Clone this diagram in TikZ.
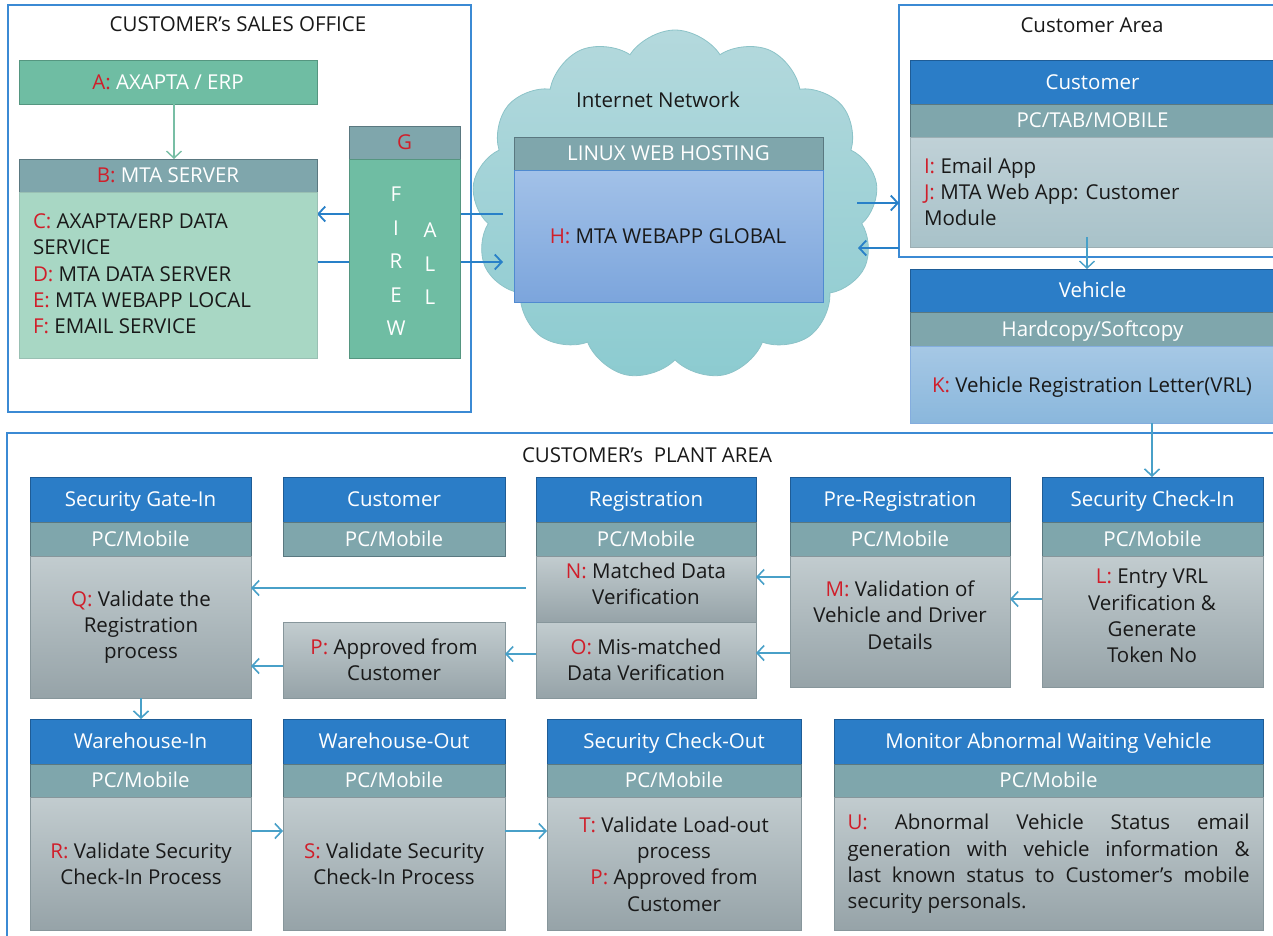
\documentclass[tikz,border=0pt]{standalone}
\usepackage{fontspec}
\setmainfont{Open Sans}
\usetikzlibrary{arrows.meta,shapes.symbols,calc}
\definecolor{hblue}{RGB}{43,125,199}
\definecolor{hbluebd}{RGB}{30,92,150}
\definecolor{subc}{RGB}{127,166,172}
\definecolor{subbd}{RGB}{90,120,128}
\definecolor{gtop}{RGB}{194,204,207}
\definecolor{gbot}{RGB}{150,163,168}
\definecolor{gbd}{RGB}{135,150,155}
\definecolor{tealc}{RGB}{111,189,163}
\definecolor{tealbd}{RGB}{85,150,128}
\definecolor{lgreen}{RGB}{168,215,196}
\definecolor{htop}{RGB}{162,193,232}
\definecolor{hbot}{RGB}{124,165,220}
\definecolor{hbd}{RGB}{80,138,208}
\definecolor{ctop}{RGB}{192,209,215}
\definecolor{cbot}{RGB}{168,194,201}
\definecolor{vtop}{RGB}{166,200,229}
\definecolor{vbot}{RGB}{138,183,220}
\definecolor{lred}{RGB}{208,30,42}
\definecolor{framec}{RGB}{59,138,212}
\definecolor{arrtop}{RGB}{40,128,200}
\definecolor{arrpl}{RGB}{72,160,200}
\definecolor{arrgr}{RGB}{120,190,165}
\definecolor{cltop}{RGB}{180,217,221}
\definecolor{clbot}{RGB}{140,203,208}
\definecolor{clbd}{RGB}{140,195,200}
\definecolor{txt}{RGB}{25,25,25}
\newcommand\fs{\fontsize{20.5}{26.3}\selectfont}
\newcommand\rl[1]{\textcolor{lred}{#1}}
\newcommand\mybox[7]{\node[#1, minimum width={#5pt-#3pt}, minimum height={#6pt-#4pt}] (#2) at ({(#3+#5)/2},{(#4+#6)/2}) {#7};}
\begin{document}
\begin{tikzpicture}[x=1pt,y=-1pt,
  base/.style={inner sep=0pt, outer sep=0pt, font=\fs, line width=1pt},
  one/.style={text height=14.6pt, text depth=0pt},
  frame/.style={base, draw=framec, line width=1.5pt},
  hdr/.style={base, one, draw=hbluebd, fill=hblue, text=white},
  sub/.style={base, one, draw=subbd, fill=subc, text=white},
  gbody/.style={base, draw=gbd, top color=gtop, bottom color=gbot},
  teal/.style={base, one, draw=tealbd, fill=tealc, text=white},
  lgbody/.style={base, draw=tealbd!60, fill=lgreen},
  hbody/.style={base, draw=hbd, top color=htop, bottom color=hbot},
  cbody/.style={base, draw=subbd!60, top color=ctop, bottom color=cbot},
  vbody/.style={base, draw=hbd!70, top color=vtop, bottom color=vbot},
  ttl/.style={base, one, text=txt},
  btxt/.style={base, align=center, text=txt},
  ltxt/.style={base, align=left, text=txt, anchor=west},
  fwl/.style={base, align=center, text=white, font=\fontsize{20.5}{33.5}\selectfont},
  arr/.style={draw=arrtop, line width=1.8pt, -{Straight Barb[length=7pt,width=15pt]}},
  parr/.style={arr, draw=arrpl, line width=1.6pt},
  garr/.style={arr, draw=arrgr, line width=1.4pt},
  ln/.style={draw=arrtop, line width=1.8pt}
]
\useasboundingbox (0,0) rectangle (1273,935);
\clip (0,0) rectangle (1273,935);

% ---------- frames ----------
\mybox{frame}{sales}{8}{5}{471}{412}{}
\node[ttl] (salesT) at (238,24) {CUSTOMER’s SALES OFFICE};
\mybox{frame}{custA}{899}{5}{1290}{257}{}
\node[ttl] (custT) at (1092,25) {Customer Area};
\mybox{frame}{plant}{7}{433}{1290}{950}{}
\node[ttl] (plantT) at (647,455) {CUSTOMER’s\ \ PLANT AREA};

% ---------- cloud ----------
\node[cloud, cloud puffs=13, cloud puff arc=115, aspect=1.16, minimum width=406pt, minimum height=350pt,
      inner sep=0pt, draw=clbd, line width=0.8pt, top color=cltop, bottom color=clbot] (cloud) at (675,205) {};
\node[ttl] (inet) at (658,100) {Internet Network};
\mybox{sub}{Hh}{514}{137}{823}{170}{LINUX WEB HOSTING}
\mybox{hbody}{Hb}{514}{170}{823}{302}{}
\node[ttl] (Ht) at (668,236) {\rl{H:} MTA WEBAPP GLOBAL};

% ---------- arrows through the firewall ----------
\draw[arr] ($(Hb.west |- 0,214)+(-11,0)$) -- ($(sales.west |- 0,214)+(309,0)$) coordinate (Bin);
\draw[arr] ($(sales.west |- 0,262)+(299,0)$) coordinate (Bout) -- ($(Hb.west |- 0,262)+(-11,0)$);

% ---------- sales office ----------
\mybox{teal}{A}{19}{60}{317}{104}{\rl{A:} AXAPTA / ERP}
\mybox{sub}{Bh}{19}{159}{317}{192}{\rl{B:} MTA SERVER}
\mybox{lgbody}{Bb}{19}{192}{317}{358}{}
\node[ltxt] (Bt) at (33,274) {\rl{C:} AXAPTA/ERP DATA\\SERVICE\\\rl{D:} MTA DATA SERVER\\\rl{E:} MTA WEBAPP LOCAL\\\rl{F:} EMAIL SERVICE};
\draw[garr] ($(A.south)+(6,0)$) -- ($(Bh.north)+(6,0)$);
\mybox{sub}{Gh}{349}{126}{460}{159}{\rl{G}}
\mybox{teal}{Gb}{349}{159}{460}{358}{}
\node[fwl, anchor=north] (fw1) at (396,187) {F\\I\\R\\E\\W};
\node[fwl, anchor=north] (fw2) at (430,223) {A\\L\\L};

% ---------- customer area ----------
\mybox{hdr}{Ch}{910}{60}{1275}{104}{Customer}
\mybox{sub}{Cs}{910}{104}{1275}{137}{PC/TAB/MOBILE}
\mybox{cbody}{Cb}{910}{137}{1275}{247}{}
\node[ltxt] (Ct) at (924,192) {\rl{I:} Email App\\\rl{J:} MTA Web App: Customer\\Module};
\mybox{hdr}{Vh}{910}{269}{1275}{312}{Vehicle}
\mybox{sub}{Vs}{910}{312}{1275}{346}{Hardcopy/Softcopy}
\mybox{vbody}{Vb}{910}{346}{1275}{423}{}
\node[ttl] (Vt) at (1092,385) {\rl{K:} Vehicle Registration Letter(VRL)};
\draw[arr] ($(Hb.east |- 0,203)+(34,0)$) -- (custA.west |- 0,203);
\draw[arr] (custA.west |- 0,248) -- ($(Hb.east |- 0,248)+(35,0)$);
\draw[parr, line width=1.4pt] ($(Cb.south -| 1087,0)+(0,-10)$) -- (Vh.north -| 1087,0);

% ---------- plant area row 1 ----------
\mybox{hdr}{SGh}{30}{477}{251}{522}{Security Gate-In}
\mybox{sub}{SGs}{30}{522}{251}{556}{PC/Mobile}
\mybox{gbody}{SGb}{30}{556}{251}{698}{}
\node[btxt] (Qt) at (141,627) {\rl{Q:} Validate the\\Registration\\process};

\mybox{hdr}{CUh}{283}{477}{505}{522}{Customer}
\mybox{sub}{CUs}{283}{522}{505}{556}{PC/Mobile}
\mybox{gbody}{P}{283}{622}{505}{698}{}
\node[btxt] (Pt) at (394,660) {\rl{P:} Approved from\\Customer};

\mybox{hdr}{RGh}{536}{477}{756}{522}{Registration}
\mybox{sub}{RGs}{536}{522}{756}{556}{PC/Mobile}
\mybox{gbody}{N}{536}{556}{756}{622}{}
\mybox{gbody}{O}{536}{622}{756}{698}{}
\node[btxt] (Nt) at (646,584) {\rl{N:} Matched Data\\Verification};
\node[btxt] (Ot) at (646,660) {\rl{O:} Mis-matched\\Data Verification};

\mybox{hdr}{PRh}{790}{477}{1010}{522}{Pre-Registration}
\mybox{sub}{PRs}{790}{522}{1010}{556}{PC/Mobile}
\mybox{gbody}{M}{790}{556}{1010}{687}{}
\node[btxt] (Mt) at (900,615) {\rl{M:} Validation of\\Vehicle and Driver\\Details};

\mybox{hdr}{SCh}{1042}{477}{1263}{522}{Security Check-In}
\mybox{sub}{SCs}{1042}{522}{1263}{556}{PC/Mobile}
\mybox{gbody}{L}{1042}{556}{1263}{687}{}
\node[btxt] (Lt) at (1152,616) {\rl{L:} Entry VRL\\Verification \&\\Generate\\Token No};

% ---------- plant area row 2 ----------
\mybox{hdr}{WIh}{30}{719}{251}{764}{Warehouse-In}
\mybox{sub}{WIs}{30}{764}{251}{797}{PC/Mobile}
\mybox{gbody}{WIb}{30}{797}{251}{930}{}
\node[btxt] (Rt) at (141,864) {\rl{R:} Validate Security\\Check-In Process};

\mybox{hdr}{WOh}{283}{719}{505}{764}{Warehouse-Out}
\mybox{sub}{WOs}{283}{764}{505}{797}{PC/Mobile}
\mybox{gbody}{WOb}{283}{797}{505}{930}{}
\node[btxt] (St) at (394,864) {\rl{S:} Validate Security\\Check-In Process};

\mybox{hdr}{COh}{547}{719}{801}{764}{Security Check-Out}
\mybox{sub}{COs}{547}{764}{801}{797}{PC/Mobile}
\mybox{gbody}{COb}{547}{797}{801}{930}{}
\node[btxt] (Tt) at (674,864) {\rl{T:} Validate Load-out\\process\\\rl{P:} Approved from\\Customer};

\mybox{hdr}{MOh}{834}{719}{1263}{764}{Monitor Abnormal Waiting Vehicle}
\mybox{sub}{MOs}{834}{764}{1263}{797}{PC/Mobile}
\mybox{gbody}{MOb}{834}{797}{1263}{930}{}
\node[base, text width=402pt, align=justify, text=txt] (Ut) at (1048.5,864)
  {\rl{U:} Abnormal Vehicle Status email\linebreak generation with vehicle information \&\linebreak last known status to Customer’s mobile\linebreak security personals.};

% ---------- plant arrows ----------
\draw[parr] (Vb.south -| 1152,0) -- (SCh.north -| 1152,0);
\draw[parr] (L.west |- 0,599) -- (M.east |- 0,599);
\draw[parr] (M.west |- 0,577) -- (N.east |- 0,577);
\draw[parr] (M.west |- 0,653) -- (O.east |- 0,653);
\draw[parr] ($(N.west |- 0,588)+(-10,0)$) -- (SGb.east |- 0,588);
\draw[parr] (O.west |- 0,654) -- (P.east |- 0,654);
\draw[parr] (P.west |- 0,666) -- (SGb.east |- 0,666);
\draw[parr] (SGb.south -| 141,0) -- (WIh.north -| 141,0);
\draw[parr] (WIb.east |- 0,831) -- (WOb.west |- 0,831);
\draw[parr] (WOb.east |- 0,831) -- (COb.west |- 0,831);
\end{tikzpicture}
\end{document}
